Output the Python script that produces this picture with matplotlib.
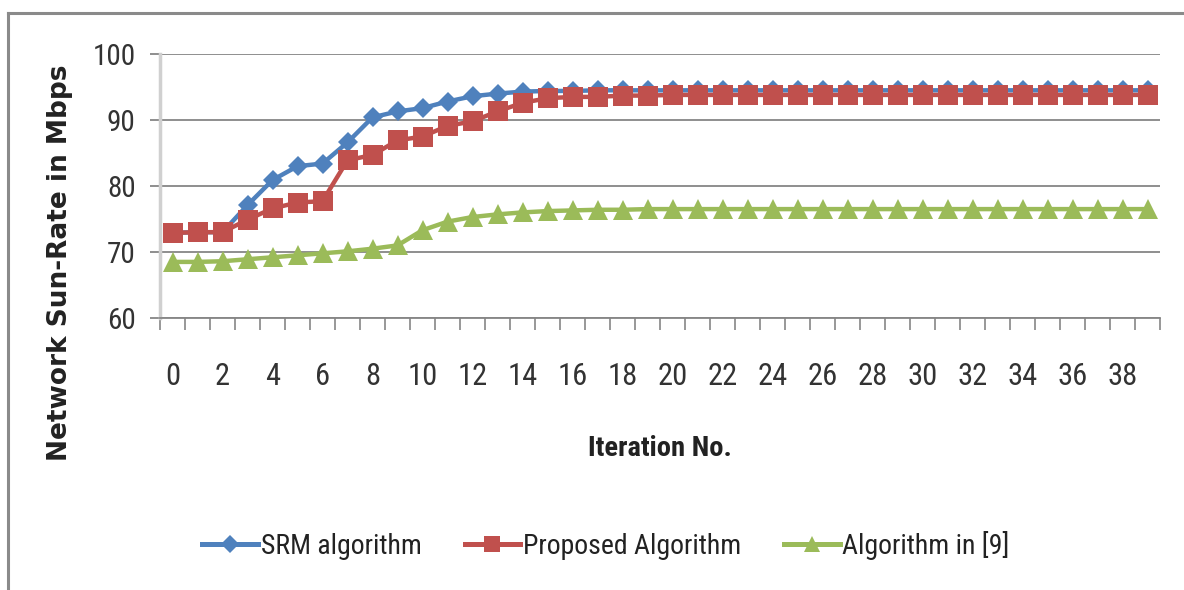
import matplotlib
matplotlib.use("Agg")
import matplotlib.pyplot as plt
from matplotlib import font_manager
from matplotlib.lines import Line2D
from matplotlib.ticker import FixedLocator, NullFormatter, FixedFormatter

iterations = list(range(40))

srm = [72.9, 73.0, 73.0, 77.1, 80.9, 83.0, 83.4, 86.6, 90.4, 91.3,
       91.8, 92.8, 93.6, 94.0, 94.3, 94.4, 94.4, 94.5, 94.5, 94.5,
       94.5, 94.5, 94.5, 94.5, 94.5, 94.5, 94.5, 94.5, 94.5, 94.5,
       94.5, 94.5, 94.5, 94.5, 94.5, 94.5, 94.5, 94.5, 94.5, 94.5]

proposed = [72.9, 73.0, 73.0, 74.9, 76.6, 77.5, 77.7, 83.9, 84.7, 86.9,
            87.5, 89.1, 89.8, 91.3, 92.6, 93.3, 93.5, 93.5, 93.7, 93.7,
            93.8, 93.8, 93.8, 93.8, 93.8, 93.8, 93.8, 93.8, 93.8, 93.8,
            93.8, 93.8, 93.8, 93.8, 93.8, 93.8, 93.8, 93.8, 93.8, 93.8]

algo9 = [68.5, 68.5, 68.6, 68.9, 69.2, 69.5, 69.8, 70.1, 70.5, 71.0,
         73.3, 74.6, 75.3, 75.7, 76.0, 76.2, 76.3, 76.4, 76.4, 76.5,
         76.5, 76.5, 76.5, 76.5, 76.5, 76.5, 76.5, 76.5, 76.5, 76.5,
         76.5, 76.5, 76.5, 76.5, 76.5, 76.5, 76.5, 76.5, 76.5, 76.5]

series_names = ["SRM algorithm", "Proposed Algorithm", "Algorithm in [9]"]
y_ticks = [60, 70, 80, 90, 100]
x_labels = [str(i) for i in range(0, 40, 2)]


def narrow_font(size, weight="normal"):
    """Pick the narrowest sans face that is installed."""
    fonts = font_manager.fontManager.ttflist
    names = {f.name for f in fonts}
    for name in ("Liberation Sans Narrow", "Roboto Condensed",
                 "Open Sans Condensed", "DejaVu Sans Condensed"):
        if name in names:
            return font_manager.FontProperties(family=name, size=size,
                                               weight=weight)
    for name in ("Roboto", "Open Sans", "DejaVu Sans"):
        if any(f.name == name and str(f.stretch) in
               ("condensed", "semi-condensed", "extra-condensed")
               for f in fonts):
            return font_manager.FontProperties(family=name, size=size,
                                               weight=weight,
                                               stretch="condensed")
    return font_manager.FontProperties(family="Liberation Sans",
                                       size=size * 0.85, weight=weight)


blue, red, green = "#4F81BD", "#C0504D", "#9BBB59"
grid_col = "#868686"

fig = plt.figure(figsize=(11.84, 5.90), dpi=100)
W, H = 1184, 590


def px_rect(l, t, r, b):
    return [l / W, 1 - b / H, (r - l) / W, (b - t) / H]


ax = fig.add_axes(px_rect(160, 54, 1160, 318))

ax.plot(iterations, srm, color=blue, lw=3.2, marker="D", ms=10,
        markeredgewidth=0, zorder=3, label=series_names[0])
ax.plot(iterations, proposed, color=red, lw=3.2, marker="s", ms=14,
        markeredgewidth=0, zorder=4, label=series_names[1])
ax.plot(iterations, algo9, color=green, lw=3.2, marker="^", ms=14,
        markeredgewidth=0, zorder=5, label=series_names[2])

ax.set_xlim(-0.5, 39.5)
ax.set_ylim(60, 100)

# y axis: gridlines that also stick out left of the axis as ticks
ax.set_yticks(y_ticks)
ax.yaxis.grid(True, color=grid_col, lw=1.3, zorder=0)
ax.tick_params(axis="y", length=7.5, width=1.3, color=grid_col, pad=10)
for t in ax.get_yticklabels():
    t.set_fontproperties(narrow_font(21))
    t.set_color("#333333")

# x axis: tick marks at category boundaries, labels at every second category
bounds = [i - 0.5 for i in range(41)]
ax.xaxis.set_major_locator(FixedLocator(bounds))
ax.xaxis.set_major_formatter(NullFormatter())
ax.xaxis.set_minor_locator(FixedLocator(list(range(0, 40, 2))))
ax.xaxis.set_minor_formatter(FixedFormatter(x_labels))
ax.tick_params(axis="x", which="major", length=8.5, width=1.2, color=grid_col)
ax.tick_params(axis="x", which="minor", length=0, pad=32)
for t in ax.xaxis.get_minorticklabels():
    t.set_fontproperties(narrow_font(22))
    t.set_color("#333333")

for s in ("top", "right"):
    ax.spines[s].set_visible(False)
ax.spines["bottom"].set_color(grid_col)
ax.spines["bottom"].set_linewidth(1.3)
ax.spines["left"].set_color("#D0D0D0")
ax.spines["left"].set_linewidth(2.5)
ax.set_axisbelow(True)

fig.text(60 / W, 1 - 263 / H, "Network Sun-Rate in Mbps", rotation=90,
         ha="center", va="center", fontsize=19, fontweight="bold",
         family="DejaVu Sans", color="#222222")
fig.text(660 / W, 1 - 448 / H, "Iteration No.", ha="center", va="center",
         fontproperties=narrow_font(20.5, "bold"), color="#222222")

handles = [
    Line2D([], [], color=blue, lw=3.6, marker="D", ms=9, markeredgewidth=0),
    Line2D([], [], color=red, lw=3.6, marker="s", ms=12, markeredgewidth=0),
    Line2D([], [], color=green, lw=3.6, marker="^", ms=12, markeredgewidth=0),
]
leg = fig.legend(handles, series_names, loc="center",
                 bbox_to_anchor=(606 / W, 1 - 545 / H), ncol=3, frameon=False,
                 handlelength=2.0, handletextpad=0.1, columnspacing=1.55,
                 prop=narrow_font(20))
for t in leg.get_texts():
    t.set_color("#222222")

# outer chart frame (top and left edges)
frame_col = "#8A8A8A"
fig.add_artist(Line2D([8 / W, 1.0], [1 - 13 / H, 1 - 13 / H],
                      color=frame_col, lw=2.2, transform=fig.transFigure))
fig.add_artist(Line2D([8 / W, 8 / W], [1 - 13 / H, 0.0],
                      color=frame_col, lw=2.2, transform=fig.transFigure))

fig.savefig("out.png", dpi=100, facecolor="white")
